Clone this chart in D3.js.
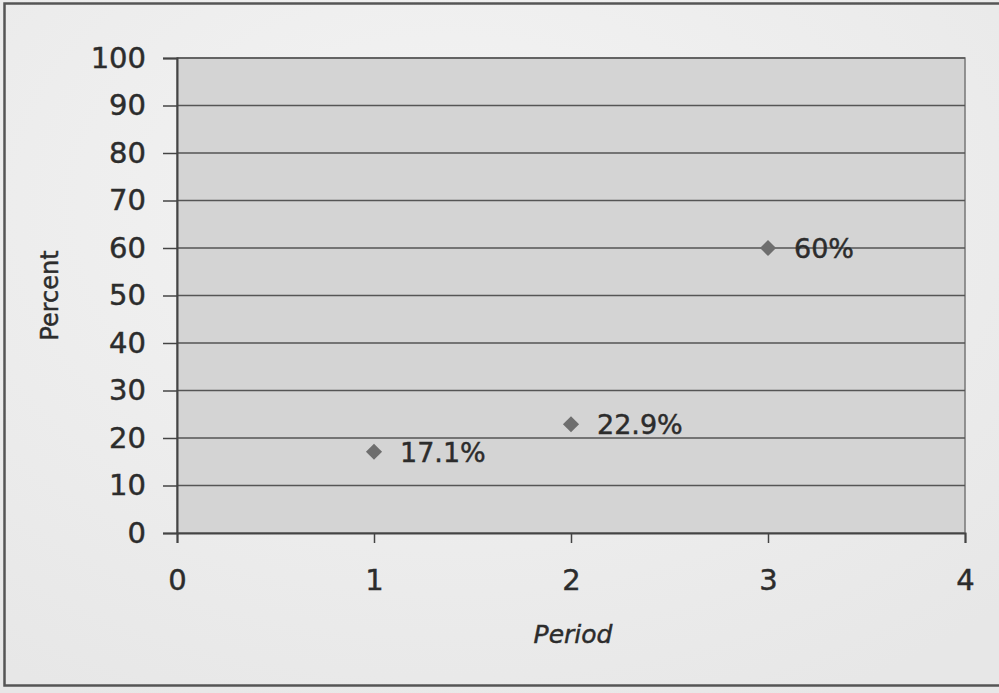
<!DOCTYPE html>
<html>
<head>
<meta charset="utf-8">
<script src="https://cdn.jsdelivr.net/npm/d3@7"></script>
<style>
  html, body { margin: 0; padding: 0; background: #ececec; }
  svg { display: block; }
  svg text { stroke: #2c2c2c; stroke-width: 0.45px; }
</style>
</head>
<body>
<svg id="chart" width="999" height="693"></svg>
<script>
// Share of respondents per period
const periods = [1, 2, 3];
const percents = [17.1, 22.9, 60];
const pointLabels = ["17.1%", "22.9%", "60%"];
const xTicks = [0, 1, 2, 3, 4];
const yTicks = [0, 10, 20, 30, 40, 50, 60, 70, 80, 90, 100];

const FONT = "'DejaVu Sans', 'Liberation Sans', Arial, sans-serif";
const INK = "#2c2c2c";

const svg = d3.select("#chart");
const W = 999, H = 693;

// soft page background with a faint lighter centre
const defs = svg.append("defs");
const bg = defs.append("radialGradient").attr("id", "bg")
  .attr("cx", "45%").attr("cy", "30%").attr("r", "80%");
bg.append("stop").attr("offset", "0%").attr("stop-color", "#f4f4f4");
bg.append("stop").attr("offset", "100%").attr("stop-color", "#e7e7e7");
svg.append("rect").attr("width", W).attr("height", H).attr("fill", "url(#bg)");

// chart frame (open on the right)
svg.append("rect")
  .attr("x", 4.5).attr("y", 3.5).attr("width", W + 10).attr("height", 682)
  .attr("fill", "none").attr("stroke", "#555").attr("stroke-width", 2.5);

const x = d3.scaleLinear().domain([0, 4]).range([177, 965]);
const y = d3.scaleLinear().domain([0, 100]).range([533, 58]);

// plot area
svg.append("rect")
  .attr("x", x(0)).attr("y", y(100))
  .attr("width", x(4) - x(0)).attr("height", y(0) - y(100))
  .attr("fill", "#d4d4d4").attr("stroke", "#777").attr("stroke-width", 1.5);

// horizontal gridlines
svg.append("g").selectAll("line").data(yTicks.filter(d => d > 0)).join("line")
  .attr("x1", x(0)).attr("x2", x(4))
  .attr("y1", d => y(d)).attr("y2", d => y(d))
  .attr("stroke", "#555").attr("stroke-width", 1.5);

// y axis
const yAxis = d3.axisLeft(y).tickValues(yTicks).tickSize(14).tickPadding(17);
const gy = svg.append("g").attr("transform", `translate(${x(0)},0)`).call(yAxis);
gy.select(".domain").attr("stroke", "#444").attr("stroke-width", 2);
gy.selectAll(".tick line").attr("stroke", "#444").attr("stroke-width", 1.5);
gy.selectAll(".tick text")
  .attr("fill", INK)
  .style("font-family", FONT)
  .style("font-size", "29px");

// x axis
const xAxis = d3.axisBottom(x).tickValues(xTicks).tickFormat(d3.format("d"))
  .tickSize(10).tickPadding(26);
const gx = svg.append("g").attr("transform", `translate(0,${y(0)})`).call(xAxis);
gx.select(".domain").attr("stroke", "#444").attr("stroke-width", 2);
gx.selectAll(".tick line").attr("stroke", "#444").attr("stroke-width", 1.5);
gx.selectAll(".tick text")
  .attr("fill", INK)
  .style("font-family", FONT)
  .style("font-size", "29px");

// axis titles
svg.append("text")
  .attr("transform", `translate(58,${(y(0) + y(100)) / 2}) rotate(-90)`)
  .attr("text-anchor", "middle")
  .attr("fill", INK)
  .style("font-family", FONT)
  .style("font-size", "24px")
  .text("Percent");

svg.append("text")
  .attr("x", 573).attr("y", 643)
  .attr("text-anchor", "middle")
  .attr("fill", INK)
  .style("font-family", FONT)
  .style("font-style", "italic")
  .style("font-size", "25px")
  .text("Period");

// data points: square markers turned 45 degrees
const pts = periods.map((p, i) => ({ p, v: percents[i], label: pointLabels[i] }));
svg.append("g").selectAll("path").data(pts).join("path")
  .attr("d", d3.symbol(d3.symbolSquare, 130))
  .attr("transform", d => `translate(${x(d.p)},${y(d.v)}) rotate(45)`)
  .attr("fill", "#6e6e6e");

svg.append("g").selectAll("text").data(pts).join("text")
  .attr("x", d => x(d.p) + 26)
  .attr("y", d => y(d.v) + 10)
  .attr("fill", INK)
  .style("font-family", FONT)
  .style("font-size", "27px")
  .text(d => d.label);
</script>
</body>
</html>
